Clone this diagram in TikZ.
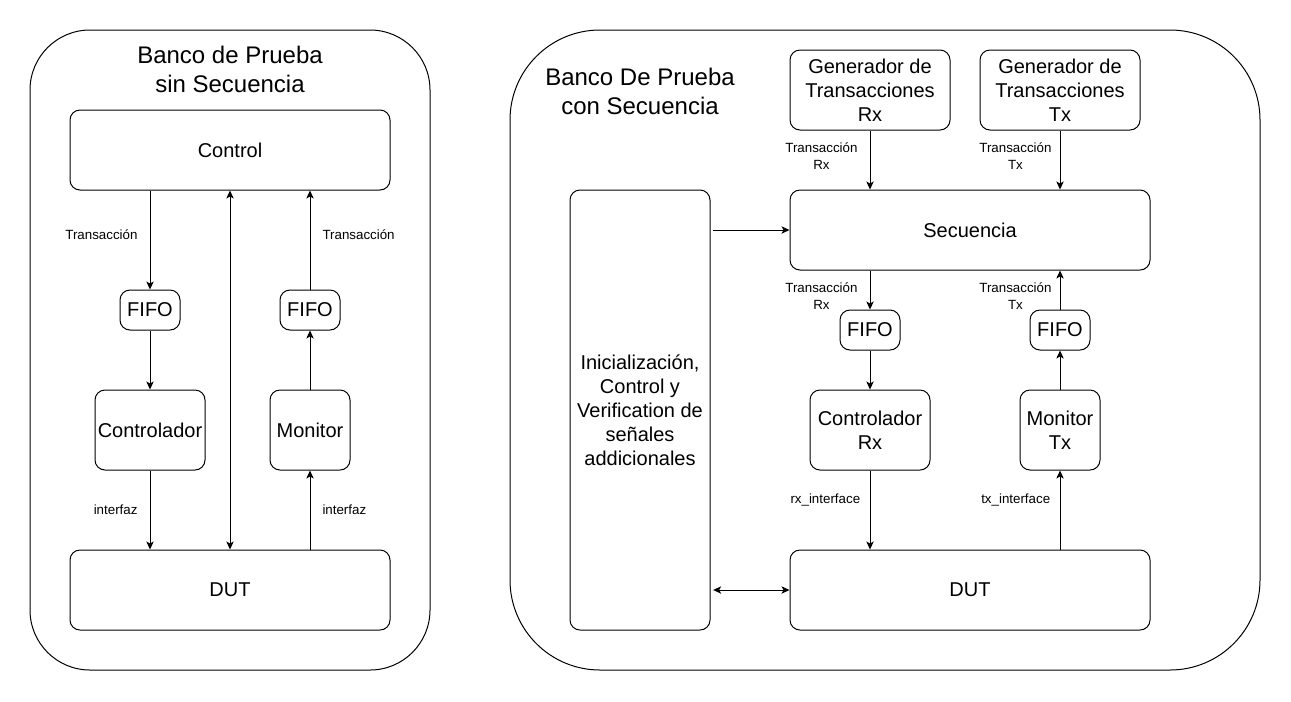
\documentclass[tikz,border=0pt]{standalone}
\usepackage{fontspec}
\setmainfont{Liberation Sans}
\usetikzlibrary{arrows.meta}

\begin{document}
\begin{tikzpicture}[x=0.75pt, y=-0.75pt, line width=0.75pt,
        >={Stealth[length=6pt, width=5.5pt, inset=1.5pt]}]
        \tikzstyle{every node}=[inner sep=0pt]
        \tikzstyle{bloque}=[draw, rounded corners=7.5pt, align=center, font=\fontsize{15}{18}\selectfont]
        \tikzstyle{marco}=[draw, minimum height=480pt]
        \tikzstyle{titulo}=[align=center, font=\fontsize{18}{21.75}\selectfont]
        \tikzstyle{etiq}=[align=center, font=\fontsize{10}{12.75}\selectfont]

        \useasboundingbox (0,0) rectangle (1291,701);

        % banco sin secuencia
        \node   (bancoA)  [marco, minimum width=300pt, rounded corners=45pt] at (230,350) {};
        \node   (tituloA) [titulo] at (230,69) {Banco de Prueba\\sin Secuencia};
        \node   (ctrl)    [bloque, minimum width=240pt, minimum height=60pt] at (230,150) {Control};
        \node   (fifoA)   [bloque, minimum width=45pt, minimum height=30pt] at (150,310) {FIFO};
        \node   (drv)     [bloque, minimum width=82.5pt, minimum height=60pt] at (150,430) {Controlador};
        \node   (fifoB)   [bloque, minimum width=45pt, minimum height=30pt] at (310,310) {FIFO};
        \node   (mon)     [bloque, minimum width=60pt, minimum height=60pt] at (310,430) {Monitor};
        \node   (dutA)    [bloque, minimum width=240pt, minimum height=60pt] at (230,590) {DUT};

        \draw[->] (ctrl.south -| fifoA.north) -- node[etiq, left=9pt, yshift=3.75pt] {Transacción} (fifoA.north);
        \draw[->] (fifoA) -- (drv);
        \draw[->] (drv) -- node[etiq, left=9pt] {interfaz} (drv |- dutA.north);
        \draw[<->] (ctrl) -- (dutA);
        \draw[->] (fifoB) -- node[etiq, right=9pt, yshift=3.75pt] {Transacción} (fifoB |- ctrl.south);
        \draw[->] (mon) -- (fifoB);
        \draw[->] (mon |- dutA.north) -- node[etiq, right=9pt] {interfaz} (mon);

        % banco con secuencia
        \node   (bancoB)  [marco, minimum width=562.5pt, rounded corners=67.5pt] at (885,350) {};
        \node   (tituloB) [titulo] at (640,91) {Banco De Prueba\\con Secuencia};
        \node   (genrx)   [bloque, minimum width=120pt, minimum height=60pt] at (870,90) {Generador de\\Transacciones\\Rx};
        \node   (gentx)   [bloque, minimum width=120pt, minimum height=60pt] at (1060,90) {Generador de\\Transacciones\\Tx};
        \node   (sec)     [bloque, minimum width=270pt, minimum height=60pt] at (970,230) {Secuencia};
        \node   (init)    [bloque, minimum width=105pt, minimum height=330pt] at (640,410) {Inicialización,\\Control y\\Verification de\\señales\\addicionales};
        \node   (fiforx)  [bloque, minimum width=45pt, minimum height=30pt] at (870,330) {FIFO};
        \node   (drvrx)   [bloque, minimum width=90pt, minimum height=60pt] at (870,430) {Controlador\\Rx};
        \node   (fifotx)  [bloque, minimum width=45pt, minimum height=30pt] at (1060,330) {FIFO};
        \node   (montx)   [bloque, minimum width=60pt, minimum height=60pt] at (1060,430) {Monitor\\Tx};
        \node   (dutB)    [bloque, minimum width=270pt, minimum height=60pt] at (970,590) {DUT};

        \draw[->] (genrx) -- node[etiq, left=9pt, yshift=3pt] {Transacción\\Rx} (genrx |- sec.north);
        \draw[->] (gentx) -- node[etiq, left=6pt, yshift=3pt] {Transacción\\Tx} (gentx |- sec.north);
        \draw[->, shorten <=2pt] (init.east |- sec.west) -- (sec.west);
        \draw[->] (sec.south -| fiforx) -- node[etiq, left=9pt, yshift=-4.5pt] {Transacción\\Rx} (fiforx);
        \draw[->] (fiforx) -- (drvrx);
        \draw[->] (drvrx) -- node[etiq, left=7pt, yshift=7.5pt] {rx\_interface} (drvrx |- dutB.north);
        \draw[->] (fifotx) -- node[etiq, left=6pt, yshift=-4.5pt] {Transacción\\Tx} (fifotx |- sec.south);
        \draw[->] (montx) -- (fifotx);
        \draw[->] (montx |- dutB.north) -- node[etiq, left=7pt, yshift=7.5pt] {tx\_interface} (montx);
        \draw[<->, shorten <=2pt] (init.east |- dutB.west) -- (dutB.west);

\end{tikzpicture}
\end{document}
